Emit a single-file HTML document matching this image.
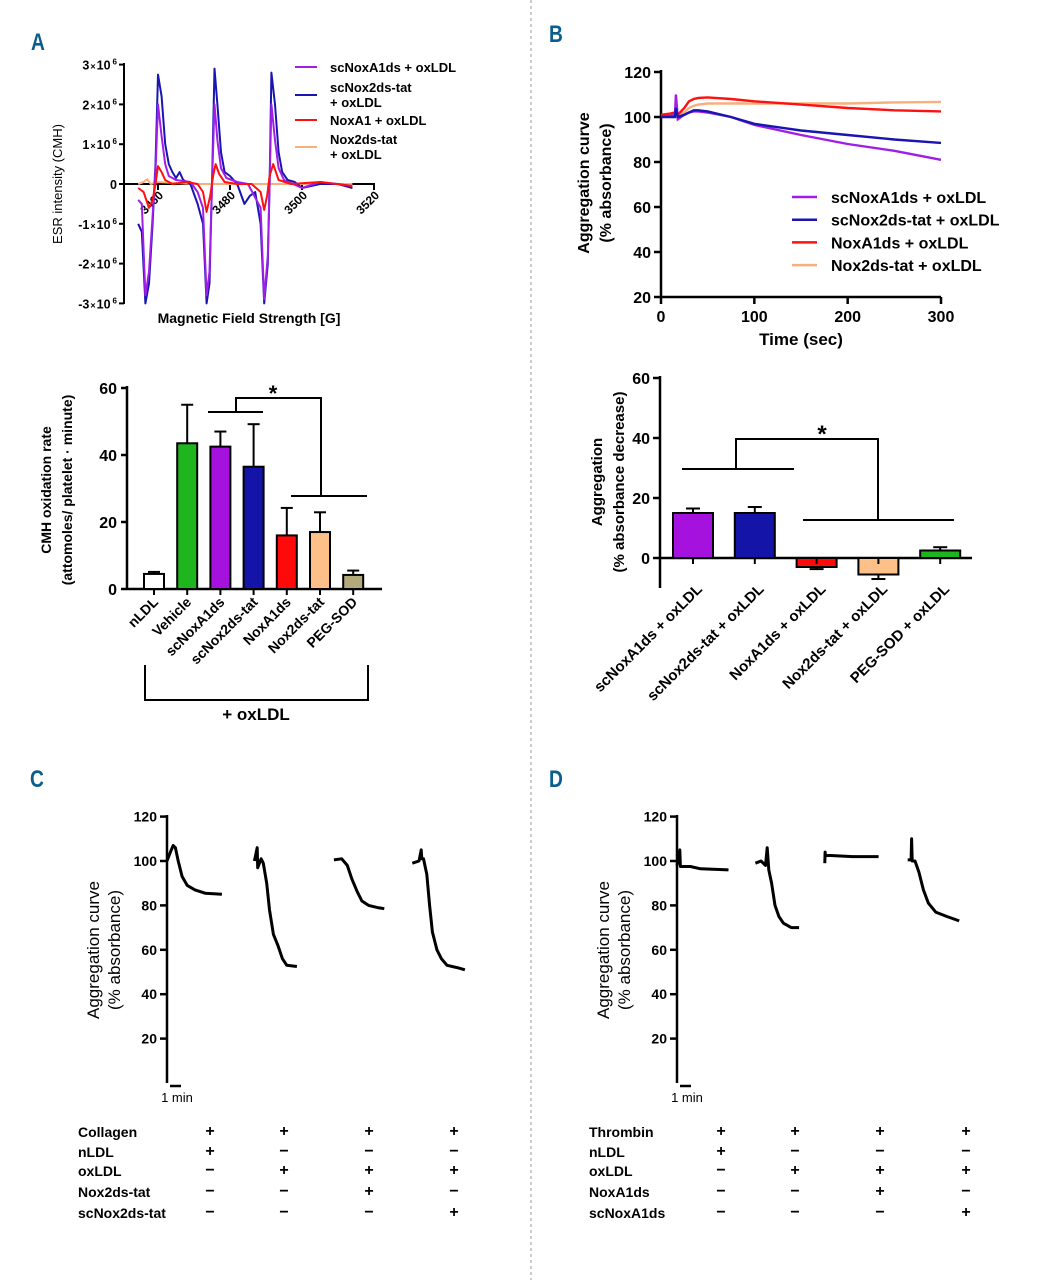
<!DOCTYPE html>
<html><head><meta charset="utf-8"><style>
html,body{margin:0;padding:0;background:#fff;}
svg{display:block;font-family:"Liberation Sans",Arial,sans-serif;}
.b{font-weight:bold;}
</style></head><body>
<svg id="fig" width="1058" height="1280" viewBox="0 0 1058 1280" xmlns="http://www.w3.org/2000/svg">
<line x1="531" y1="0" x2="531" y2="1280" stroke="#999" stroke-dasharray="3,3"/>
<text x="0" y="0" font-size="24" class="b" fill="#0a5d8c" transform="translate(31,50) scale(0.8,1)">A</text>
<text x="0" y="0" font-size="24" class="b" fill="#0a5d8c" transform="translate(549,42) scale(0.8,1)">B</text>
<text x="0" y="0" font-size="24" class="b" fill="#0a5d8c" transform="translate(30,787) scale(0.8,1)">C</text>
<text x="0" y="0" font-size="24" class="b" fill="#0a5d8c" transform="translate(549,787) scale(0.8,1)">D</text>
<g id="esr"></g>
<g id="barA"></g>
<g id="aggB"></g>
<g id="barB"></g>
<g id="trC"></g>
<g id="trD"></g>
</svg>
<script>
// ---------- DATA ----------
const esrBlueG=[3454.5,3455.5,3456.5,3457.5,3458.5,3459.3,3460,3461,3462,3463,3464,3465,3466,3467,3469,3471,3472.5,3473.5,3474.3,3475,3475.7,3476.5,3477.5,3478.5,3480,3482,3484,3485.5,3487,3488.5,3489.5,3490.5,3491,3491.5,3492.5,3493.5,3494.5,3496,3498,3500,3505,3510,3514];
const esrBlueV=[-1.0,-1.2,-3.0,-2.5,-1,0.5,2.75,2.2,1,0.5,0.3,0.15,0.3,0.1,0,-0.5,-1,-3,-2.5,0,2.9,2,0.8,0.3,0.2,0,-0.5,-0.3,-0.2,-1,-3,-2,0,2.8,2,0.8,0.3,0.1,0.05,-0.1,0,0,-0.1];
const esrPurpleG=[3454.5,3455.5,3456.5,3457.5,3458.5,3459.3,3460,3461,3462,3463,3465,3469,3471,3472.5,3473.5,3474.3,3475,3475.7,3476.5,3477.5,3479,3482,3485,3488.5,3489.5,3490.5,3491,3491.5,3492.5,3493.5,3495,3500,3505,3510,3514];
const esrPurpleV=[-0.4,-0.5,-2.8,-2.2,-0.8,0.3,2.0,1.2,0.5,0.2,0.1,0.05,-0.2,-0.6,-2.8,-2.2,0,2.0,1.1,0.4,0.15,0.05,0,-0.6,-2.9,-1.8,0,2.0,1.1,0.4,0.1,-0.1,0.05,0,-0.05];
const esrRedG=[3454.5,3456,3457.5,3458.5,3459.3,3460,3461,3462,3464,3468,3471,3472.5,3473.5,3474.5,3475.3,3476,3477,3478.5,3482,3486,3488.5,3489.5,3490.3,3491,3492,3493.5,3497,3505,3514];
const esrRedV=[-0.1,-0.2,-0.6,-0.4,0,0.45,0.3,0.1,0,0.05,0,-0.2,-0.7,-0.3,0.2,0.5,0.25,0.05,0,0,-0.2,-0.65,-0.3,0.2,0.5,0.1,0,0.05,-0.05];
const esrPeachG=[3454.5,3456,3457,3458,3460,3470,3480,3500,3514];
const esrPeachV=[0,0.05,0.12,0,0.05,0,0,0,0];
const esrTicks=[3460,3480,3500,3520];
const esrYTicks=[3,2,1,0,-1,-2,-3];

const cmhCats=["nLDL","Vehicle","scNoxA1ds","scNox2ds-tat","NoxA1ds","Nox2ds-tat","PEG-SOD"];
const cmhMeans=[4.5,43.5,42.5,36.5,16,17,4.2];
const cmhErrs=[0.6,11.5,4.5,12.7,8.2,5.9,1.3];
const cmhColors=["#ffffff","#1fb51f","#a512dd","#1414a8","#ff0a0a","#fcc088","#b2aa7a"];
const cmhTicks=[0,20,40,60];

const aggT=[0,10,15,16,18,25,30,35,40,50,75,100,150,200,250,300];
const aggPurple=[100,100.5,101,110,99,101,102,102.5,102.5,102,100,96.5,92,88,85,81];
const aggBlue=[100,100,100,104,100,101,102,103,103,102.5,100,97,94,92,90,88.5];
const aggRed=[101,101.5,102,102,101,104,107,108,108.5,108.7,108,107,105.5,104,103,102.5];
const aggPeach=[100.5,100.5,101,101,101,102,104,105,105.5,106,106,106,106,106,106.5,106.7];
const aggYTicks=[20,40,60,80,100,120];
const aggXTicks=[0,100,200,300];

const decCats=["scNoxA1ds + oxLDL","scNox2ds-tat + oxLDL","NoxA1ds + oxLDL","Nox2ds-tat + oxLDL","PEG-SOD + oxLDL"];
const decMeans=[15,15,-3,-5.5,2.5];
const decErrs=[1.5,2,0.7,1.5,1.1];
const decColors=["#a512dd","#1414a8","#ff0a0a","#fcc088","#1fb51f"];
const decTicks=[0,20,40,60];

const cStart=[0,7.8,14.9,21.9];
const c1T=[0,0.3,0.55,0.75,1.0,1.35,1.8,2.5,3.4,4.9];
const c1V=[100,104,107,106,100,93,89,87,85.5,85];
const c2T=[0,0.25,0.3,0.6,0.8,1.1,1.35,1.7,2.1,2.5,2.9,3.8];
const c2V=[100,106,97,101,99,90,78,67,62,56,53,52.5];
const c3T=[0,0.7,1.2,1.6,2.1,2.5,3.1,3.9,4.5];
const c3V=[100.5,101,98,92,86,82,80,79,78.5];
const c4T=[0,0.6,0.8,0.85,1.0,1.3,1.55,1.8,2.2,2.6,3.1,4.0,4.7];
const c4V=[99,100,105,101,101,94,80,68,60,56,53,52,51];
const dStart=[0,7.0,13.2,20.6];
const d1T=[0,0.25,0.3,0.6,1.2,2.1,4.6];
const d1V=[98,105,97.5,97.5,97.5,96.5,96];
const d2T=[0,0.5,0.9,1.05,1.2,1.45,1.75,2.1,2.5,3.2,3.9];
const d2V=[99,100,98,106,96,90,80,75,72,70,70];
const d3T=[0,0.02,0.05,0.5,2.5,4.8];
const d3V=[99,104,102.5,102.5,102,102];
const d4T=[0,0.3,0.35,0.4,0.65,1.0,1.4,1.85,2.5,3.5,4.6];
const d4V=[100.5,100.5,110,100,100,95,87,81,77,75,73];

const cRows=["Collagen","nLDL","oxLDL","Nox2ds-tat","scNox2ds-tat"];
const cMarks=[["+","+","+","+"],["+","−","−","−"],["−","+","+","+"],["−","−","+","−"],["−","−","−","+"]];
const dRows=["Thrombin","nLDL","oxLDL","NoxA1ds","scNoxA1ds"];
const dMarks=[["+","+","+","+"],["+","−","−","−"],["−","+","+","+"],["−","−","+","−"],["−","−","−","+"]];
const traceYTicks=[20,40,60,80,100,120];

// ---------- HELPERS ----------
const NS="http://www.w3.org/2000/svg";
function el(tag,attrs,parent,txt){const e=document.createElementNS(NS,tag);for(const k in attrs)e.setAttribute(k,attrs[k]);if(txt!==undefined)e.textContent=txt;parent.appendChild(e);return e;}
function line(p,x1,y1,x2,y2,w,c){return el('line',{x1:x1,y1:y1,x2:x2,y2:y2,stroke:c||'#000','stroke-width':w||2},p);}
function pathOf(xs,ys,fx,fy){return xs.map((x,i)=>(i?'L':'M')+fx(x).toFixed(1)+','+fy(ys[i]).toFixed(1)).join('');}

// ---------- ESR ----------
(function(){
const g=document.getElementById('esr');
const fx=v=>158+(v-3460)*3.6, fy=v=>184-v*39.8;
let e=line(g,124,63,124,304,2);


esrYTicks.forEach(v=>{
 line(g,119,fy(v),124,fy(v),2);
 const t=el('text',{x:117,y:fy(v)+5,'text-anchor':'end','font-size':12.5,class:'b'},g);
 
 
 if(v===0){t.textContent='0';}else{
  el('tspan',{},t,String(v));
  el('tspan',{'font-size':9,dx:1},t,'×');
  el('tspan',{dx:1},t,'10');
  el('tspan',{dy:-5,dx:2,'font-size':8},t,'6');}
});
e=line(g,124,184,375,184,2);


esrTicks.forEach(v=>{
 line(g,fx(v),184,fx(v),190,2);
 const t=el('text',{x:fx(v)+6,y:196,'text-anchor':'end','font-size':12,class:'b',transform:`rotate(-45 ${fx(v)+6} 196)`},g,String(v));
 
 
});
const series=[[esrPeachG,esrPeachV,'#f7b07c'],[esrBlueG,esrBlueV,'#1a14b0'],[esrPurpleG,esrPurpleV,'#a01ee6'],[esrRedG,esrRedV,'#ff1010']];
series.forEach(s=>{const p=el('path',{d:pathOf(s[0],s[1],fx,fy),fill:'none',stroke:s[2],'stroke-width':2,'stroke-linejoin':'round'},g);
 
 });
const leg=[[67,'#a01ee6',['scNoxA1ds + oxLDL']],[95,'#1a14b0',['scNox2ds-tat','+ oxLDL']],[120,'#ff1010',['NoxA1 + oxLDL']],[147,'#f7b07c',['Nox2ds-tat','+ oxLDL']]];
leg.forEach(l=>{line(g,295,l[0],317,l[0],2,l[1]);
 l[2].forEach((s,i)=>{const y=l[2].length===1?l[0]+5:l[0]-3+i*15;
  const t=el('text',{x:330,y:y,'font-size':13,class:'b'},g,s);
  
  });});
let t=el('text',{x:62,y:184,'text-anchor':'middle','font-size':13,transform:'rotate(-90 62 184)'},g,'ESR intensity (CMH)');


t=el('text',{x:249,y:323,'text-anchor':'middle','font-size':14,class:'b'},g,'Magnetic Field Strength [G]');


})();

// ---------- CMH BAR ----------
(function(){
const g=document.getElementById('barA');
const y0=589, sc=(589-388)/60, fy=v=>y0-v*sc, fx=i=>154+i*33.2;
let e=line(g,127,386,127,590,2.5);


e=line(g,127,589,382,589,2.5);


cmhTicks.forEach(v=>{line(g,121,fy(v),127,fy(v),2.5);
 const t=el('text',{x:117,y:fy(v)+6,'text-anchor':'end','font-size':16,class:'b'},g,String(v));
 
 });
cmhMeans.forEach((m,i)=>{
 const cx=fx(i);
 line(g,cx,fy(m),cx,fy(m+cmhErrs[i]),2);
 line(g,cx-6,fy(m+cmhErrs[i]),cx+6,fy(m+cmhErrs[i]),2);
 const r=el('rect',{x:cx-10,y:fy(m),width:20,height:y0-fy(m),fill:cmhColors[i],stroke:'#000','stroke-width':2},g);
 
 
 line(g,cx,589,cx,595,2);
 const t=el('text',{x:cx+5,y:603,'text-anchor':'end','font-size':14,class:'b',transform:`rotate(-45 ${cx+5} 603)`},g,cmhCats[i]);
 
 
});
const br=el('path',{d:'M208,412H263M236,412V398H321V496M291,496H367',fill:'none',stroke:'#000','stroke-width':2},g);


let t=el('text',{x:273,y:401,'text-anchor':'middle','font-size':22,class:'b'},g,'*');


const ob=el('path',{d:'M145,665V700H368V665',fill:'none',stroke:'#000','stroke-width':2},g);


t=el('text',{x:256,y:720,'text-anchor':'middle','font-size':17,class:'b'},g,'+ oxLDL');


t=el('text',{x:51,y:490,'text-anchor':'middle','font-size':14,class:'b',transform:'rotate(-90 51 490)'},g,'CMH oxidation rate');


t=el('text',{x:72,y:490,'text-anchor':'middle','font-size':14,class:'b',transform:'rotate(-90 72 490)'},g,'(attomoles/ platelet · minute)');


})();

// ---------- AGG CURVES B ----------
(function(){
const g=document.getElementById('aggB');
const fx=v=>661+v*(941-661)/300, fy=v=>297-(v-20)*2.25;
let e=line(g,661,70,661,298,2.5);


e=line(g,660,297,941,297,2.5);


aggYTicks.forEach(v=>{line(g,654,fy(v),661,fy(v),2.5);
 const t=el('text',{x:651,y:fy(v)+6,'text-anchor':'end','font-size':16,class:'b'},g,String(v));
 
 });
aggXTicks.forEach(v=>{line(g,fx(v),297,fx(v),304,2.5);
 const t=el('text',{x:fx(v),y:322,'text-anchor':'middle','font-size':16,class:'b'},g,String(v));
 
 });
const ser=[[aggPeach,'#f7b07c'],[aggRed,'#ff1010'],[aggPurple,'#a01ee6'],[aggBlue,'#1a14b0']];
ser.forEach(s=>{const p=el('path',{d:pathOf(aggT,s[0],fx,fy),fill:'none',stroke:s[1],'stroke-width':2.4},g);
 
 });
const leg=[['scNoxA1ds + oxLDL','#a01ee6'],['scNox2ds-tat + oxLDL','#1a14b0'],['NoxA1ds + oxLDL','#ff1010'],['Nox2ds-tat + oxLDL','#f7b07c']];
leg.forEach((l,i)=>{const y=197+i*22.7;line(g,792,y,817,y,2.5,l[1]);
 const t=el('text',{x:831,y:y+6,'font-size':16,class:'b'},g,l[0]);
 
 });
let t=el('text',{x:801,y:345,'text-anchor':'middle','font-size':17,class:'b'},g,'Time (sec)');


t=el('text',{x:589,y:183,'text-anchor':'middle','font-size':16,class:'b',transform:'rotate(-90 589 183)'},g,'Aggregation curve');


t=el('text',{x:611,y:183,'text-anchor':'middle','font-size':16,class:'b',transform:'rotate(-90 611 183)'},g,'(% absorbance)');


})();

// ---------- AGG DECREASE BARS B ----------
(function(){
const g=document.getElementById('barB');
const y0=558, sc=3, fy=v=>y0-v*sc, fx=i=>693+i*61.8;
let e=line(g,660,376,660,588,2.5);


e=line(g,660,558,972,558,2.5);


decTicks.forEach(v=>{line(g,653,fy(v),660,fy(v),2.5);
 const t=el('text',{x:650,y:fy(v)+6,'text-anchor':'end','font-size':16,class:'b'},g,String(v));
 
 });
decMeans.forEach((m,i)=>{
 const cx=fx(i), tip=m>=0?m+decErrs[i]:m-decErrs[i];
 line(g,cx,fy(m),cx,fy(tip),2);
 line(g,cx-7,fy(tip),cx+7,fy(tip),2);
 const r=el('rect',{x:cx-20,y:Math.min(fy(m),y0),width:40,height:Math.abs(y0-fy(m)),fill:decColors[i],stroke:'#000','stroke-width':2},g);
 
 
 line(g,cx,558,cx,564,2);
 const t=el('text',{x:cx+10,y:590,'text-anchor':'end','font-size':15,class:'b',transform:`rotate(-45 ${cx+10} 590)`},g,decCats[i]);
 
 
});
const br=el('path',{d:'M682,469H794M736,469V439H878V520M803,520H954',fill:'none',stroke:'#000','stroke-width':2},g);


let t=el('text',{x:822,y:442,'text-anchor':'middle','font-size':24,class:'b'},g,'*');


t=el('text',{x:602,y:482,'text-anchor':'middle','font-size':15,class:'b',transform:'rotate(-90 602 482)'},g,'Aggregation');


t=el('text',{x:624,y:482,'text-anchor':'middle','font-size':15,class:'b',transform:'rotate(-90 624 482)'},g,'(% absorbance decrease)');


})();

// ---------- TRACES C / D ----------
function traces(id,ax,x0s,starts,tracesT,tracesV,rows,marks,labelX,cols,pfx){
const g=document.getElementById(id);
const y0=1083, fy=v=>y0-v*2.22, ppm=11.2;
let e=line(g,ax,815,ax,1083,2.5);


traceYTicks.forEach(v=>{line(g,ax-7,fy(v),ax,fy(v),2.5);
 const t=el('text',{x:ax-10,y:fy(v)+5,'text-anchor':'end','font-size':14,class:'b'},g,String(v));
 
 });
tracesT.forEach((T,k)=>{
 const fx=v=>x0s+(starts[k]+v)*ppm;
 const p=el('path',{d:pathOf(T,tracesV[k],fx,fy),fill:'none',stroke:'#000','stroke-width':3,'stroke-linejoin':'round'},g);
 
 
});
e=line(g,ax+3,1086,ax+14,1086,2.5);


let t=el('text',{x:ax+10,y:1102,'text-anchor':'middle','font-size':13},g,'1 min');


t=el('text',{x:ax-68,y:950,'text-anchor':'middle','font-size':17,transform:`rotate(-90 ${ax-68} 950)`},g,'Aggregation curve');


t=el('text',{x:ax-47,y:950,'text-anchor':'middle','font-size':17,transform:`rotate(-90 ${ax-47} 950)`},g,'(% absorbance)');


const rowY=[1137,1157,1176,1197,1218];
rows.forEach((r,i)=>{
 const tl=el('text',{x:labelX,y:rowY[i],'font-size':14,class:'b'},g,r);
 
 
 marks[i].forEach((m,j)=>{const tm=el('text',{x:cols[j],y:rowY[i]-1,'text-anchor':'middle','font-size':16,class:'b'},g,m);
  
  });
});
}
traces('trC',167,167,cStart,[c1T,c2T,c3T,c4T],[c1V,c2V,c3V,c4V],cRows,cMarks,78,[210,284,369,454],'collagen');
traces('trD',677,677,dStart,[d1T,d2T,d3T,d4T],[d1V,d2V,d3V,d4V],dRows,dMarks,589,[721,795,880,966],'thrombin');
</script>
</body></html>
